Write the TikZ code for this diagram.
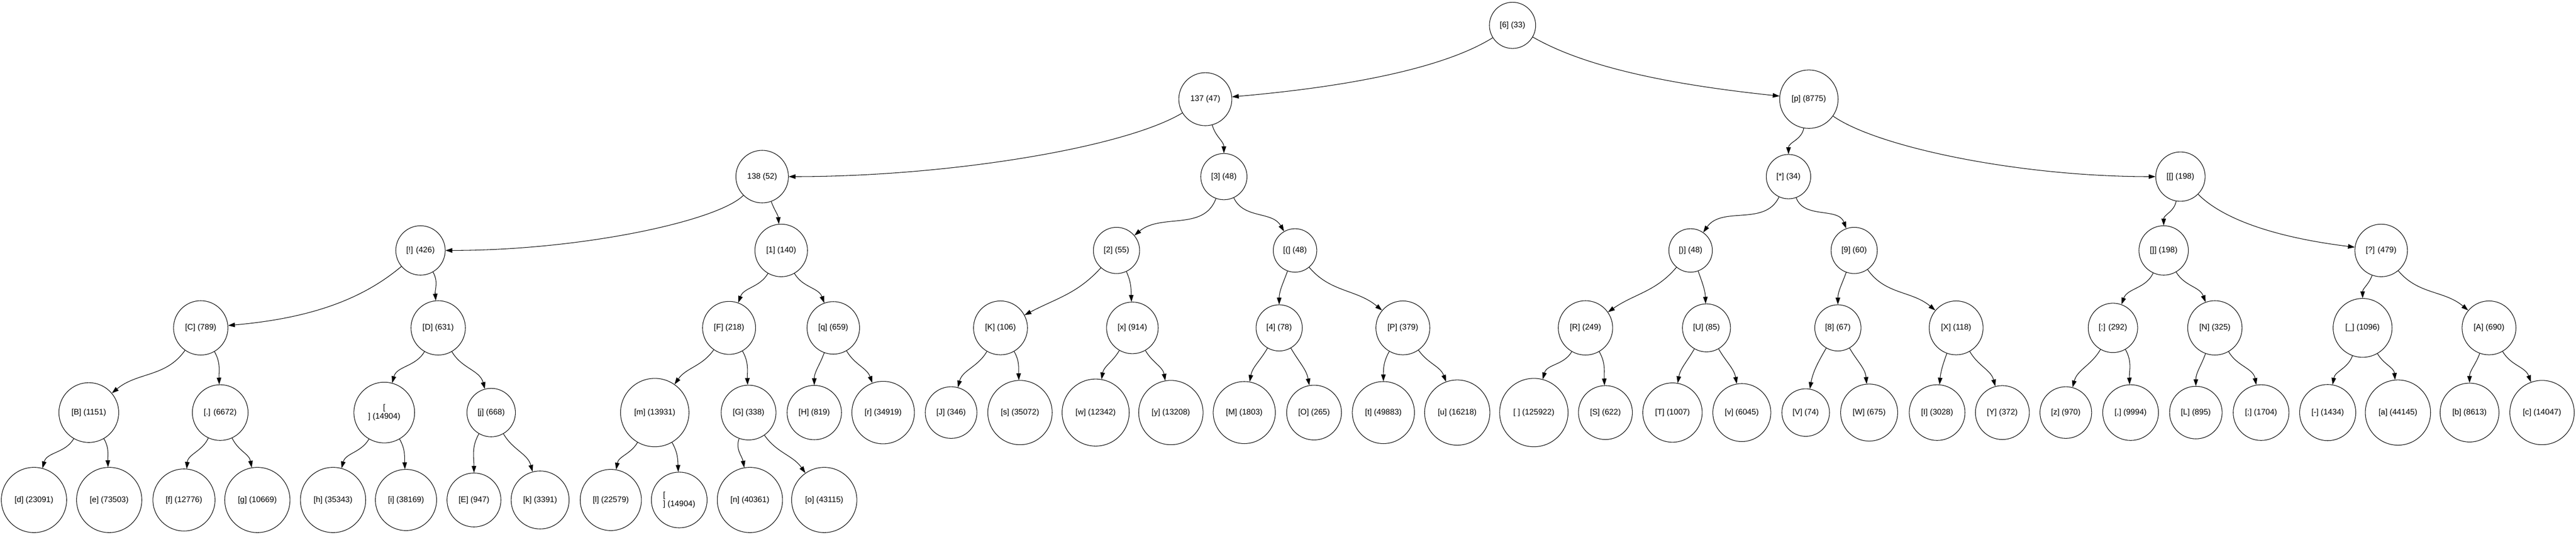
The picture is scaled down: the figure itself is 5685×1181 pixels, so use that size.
\documentclass[tikz,border=0pt]{standalone}
\usepackage{fontspec}
\setmainfont{Liberation Sans}
\usetikzlibrary{arrows.meta,topaths}
\newcommand\tnfont{\fontsize{8.85pt}{9.8pt}\selectfont}
\newcommand\tn[5]{\node[tn,minimum size=#5pt] (#1) at (#2,-#3) {#4};}
\newcommand\ed[4]{\draw[edgeline] (#1) to[out=#3,in=#4] (#2);}
\newcommand\edd[6]{\draw[edgeline] (#1) to[out=#3,in=#4,out distance=#5pt,in distance=#6pt] (#2);}
\begin{document}
\begin{tikzpicture}[x=0.5pt,y=0.5pt,
  tn/.style={circle,draw,line width=0.6pt,inner sep=0pt,font=\tnfont,text=black},
  edgeline/.style={line width=0.6pt,-{Triangle[length=7.5pt,width=5pt]}}]
\fill[white] (0,0) rectangle (5685,-1181);
\useasboundingbox (0,0) rectangle (5685,-1181);
% level 0
\tn{root}{3338}{56}{[6] (33)}{51}
% level 1
\tn{n137}{2660}{219}{137 (47)}{58.5}
\tn{p}{3992}{219}{[p] (8775)}{64.5}
% level 2
\tn{n138}{1682}{390}{138 (52)}{58}
\tn{n3}{2701}{390}{[3] (48)}{51}
\tn{star}{3947}{390}{[*] (34)}{49}
\tn{lb}{4812}{390}{[[] (198)}{54.5}
% level 3
\tn{excl}{928}{553}{[!] (426)}{54.5}
\tn{one}{1724}{553}{[1] (140)}{58}
\tn{two}{2464}{553}{[2] (55)}{51}
\tn{lp}{2858}{553}{[(] (48)}{48}
\tn{rp}{3731}{553}{[)] (48)}{48}
\tn{nine}{4092}{553}{[9] (60)}{51}
\tn{rb}{4775}{553}{[]] (198)}{54.5}
\tn{qm}{5255}{553}{[?] (479)}{58}
% level 4
\tn{C}{443}{724}{[C] (789)}{60}
\tn{D}{967}{724}{[D] (631)}{60}
\tn{F}{1609}{724}{[F] (218)}{58.5}
\tn{q}{1839}{724}{[q] (659)}{58}
\tn{K}{2208}{724}{[K] (106)}{59.5}
\tn{x}{2499}{724}{[x] (914)}{57}
\tn{four}{2823}{724}{[4] (78)}{51}
\tn{P}{3096}{724}{[P] (379)}{59.5}
\tn{R}{3499}{724}{[R] (249)}{60}
\tn{U}{3766}{724}{[U] (85)}{53}
\tn{eight}{4056}{724}{[8] (67)}{51}
\tn{X}{4317}{724}{[X] (118)}{59.5}
\tn{colon}{4663}{724}{[:] (292)}{54.5}
\tn{N}{4888}{724}{[N] (325)}{60}
\tn{us}{5214}{724}{[\_] (1096)}{65}
\tn{A}{5493}{724}{[A] (690)}{59.5}
% level 5
\tn{B}{196}{911}{[B] (1151)}{66}
\tn{dot}{486}{911}{[.] (6672)}{61.5}
\node[tn,align=center,minimum size=67pt] (nlA) at (848,-911) {[\\] (14904)};
\tn{j}{1084}{911}{[j] (668)}{53.5}
\tn{m}{1445}{911}{[m] (13931)}{75.5}
\tn{G}{1652}{911}{[G] (338)}{60.5}
\tn{H}{1797}{911}{[H] (819)}{60}
\tn{r}{1949}{911}{[r] (34919)}{69}
\tn{J}{2099}{911}{[J] (346)}{57}
\tn{s}{2251}{911}{[s] (35072)}{71}
\tn{w}{2418}{911}{[w] (12342)}{74}
\tn{y}{2584}{911}{[y] (13208)}{71}
\tn{M}{2746}{911}{[M] (1803)}{68.5}
\tn{O}{2900}{911}{[O] (265)}{60.5}
\tn{t}{3053}{911}{[t] (49883)}{68.5}
\tn{u}{3216}{911}{[u] (16218)}{72}
\tn{sp}{3385}{911}{[ ] (125922)}{75.5}
\tn{S}{3543}{911}{[S] (622)}{59.5}
\tn{T}{3691}{911}{[T] (1007)}{65.5}
\tn{v}{3844}{911}{[v] (6045)}{64}
\tn{V}{3985}{911}{[V] (74)}{52.5}
\tn{W}{4125}{911}{[W] (675)}{63}
\tn{I}{4275}{911}{[I] (3028)}{61.5}
\tn{Y}{4419}{911}{[Y] (372)}{59.5}
\tn{z}{4559}{911}{[z] (970)}{57}
\tn{comma}{4702}{911}{[,] (9994)}{61.5}
\tn{L}{4846}{911}{[L] (895)}{58}
\tn{semi}{4990}{911}{[;] (1704)}{61.5}
\tn{dash}{5137}{911}{[-] (1434)}{62}
\tn{a}{5292}{911}{[a] (44145)}{72}
\tn{b}{5450}{911}{[b] (8613)}{65}
\tn{c}{5610}{911}{[c] (14047)}{71}
% level 6
\tn{d}{75}{1104}{[d] (23091)}{72}
\tn{e}{241}{1104}{[e] (73503)}{72}
\tn{f}{406}{1104}{[f] (12776)}{68.5}
\tn{g}{568}{1104}{[g] (10669)}{72}
\tn{h}{735}{1104}{[h] (35343)}{72}
\tn{i}{896}{1104}{[i] (38169)}{67.5}
\tn{E}{1046}{1104}{[E] (947)}{59.5}
\tn{k}{1192}{1104}{[k] (3391)}{64}
\tn{l}{1348}{1104}{[l] (22579)}{67.5}
\node[tn,align=left,minimum size=61.5pt] (nlB) at (1499,-1104) {[\\] (14904)};
\tn{n}{1655}{1104}{[n] (40361)}{72}
\tn{o}{1819}{1104}{[o] (43115)}{72}
% edges
\edd{root}{n137}{212}{5}{65}{125}
\edd{root}{p}{-30}{174}{65}{125}
\edd{n137}{n138}{211}{0}{75}{175}
\ed{n137}{n3}{-75}{90}
\ed{p}{star}{260}{90}
\edd{p}{lb}{-35}{180}{60}{150}
\edd{n138}{excl}{225}{0}{40}{150}
\ed{n138}{one}{-70}{95}
\ed{n3}{two}{250}{40}
\ed{n3}{lp}{-65}{120}
\ed{star}{rp}{245}{55}
\ed{star}{nine}{-70}{110}
\ed{lb}{rb}{260}{90}
\edd{lb}{qm}{-45}{173}{45}{75}
\edd{excl}{C}{220}{5}{50}{100}
\ed{excl}{D}{-60}{95}
\ed{one}{F}{240}{70}
\ed{one}{q}{-60}{110}
\ed{two}{K}{228}{28}
\ed{two}{x}{-65}{92}
\ed{lp}{four}{250}{90}
\ed{lp}{P}{-50}{140}
\ed{rp}{R}{230}{35}
\ed{rp}{U}{-70}{92}
\ed{nine}{eight}{250}{90}
\ed{nine}{X}{-55}{140}
\ed{rb}{colon}{245}{70}
\ed{rb}{N}{-60}{110}
\ed{qm}{us}{250}{90}
\ed{qm}{A}{-50}{140}
\ed{C}{B}{235}{40}
\ed{C}{dot}{-60}{92}
\ed{D}{nlA}{240}{75}
\ed{D}{j}{-60}{105}
\ed{F}{m}{235}{55}
\ed{F}{G}{-60}{92}
\ed{q}{H}{250}{90}
\ed{q}{r}{-60}{110}
\ed{K}{J}{240}{75}
\ed{K}{s}{-60}{92}
\ed{x}{w}{240}{80}
\ed{x}{y}{-60}{100}
\ed{four}{M}{240}{80}
\ed{four}{O}{-60}{100}
\ed{P}{t}{240}{90}
\ed{P}{u}{-55}{110}
\ed{R}{sp}{240}{75}
\ed{R}{S}{-60}{92}
\ed{U}{T}{240}{80}
\ed{U}{v}{-60}{100}
\ed{eight}{V}{240}{80}
\ed{eight}{W}{-60}{95}
\ed{X}{I}{250}{85}
\ed{X}{Y}{-60}{105}
\ed{colon}{z}{240}{75}
\ed{colon}{comma}{-60}{92}
\ed{N}{L}{250}{90}
\ed{N}{semi}{-60}{100}
\ed{us}{dash}{250}{80}
\ed{us}{a}{-60}{95}
\ed{A}{b}{250}{90}
\ed{A}{c}{-60}{110}
\ed{B}{d}{240}{75}
\ed{B}{e}{-60}{92}
\ed{dot}{f}{245}{85}
\ed{dot}{g}{-65}{100}
\ed{nlA}{h}{240}{75}
\ed{nlA}{i}{-60}{92}
\ed{j}{E}{240}{90}
\ed{j}{k}{-60}{105}
\ed{m}{l}{240}{80}
\ed{m}{nlB}{-60}{92}
\ed{G}{n}{250}{100}
\ed{G}{o}{-55}{125}
\end{tikzpicture}
\end{document}
